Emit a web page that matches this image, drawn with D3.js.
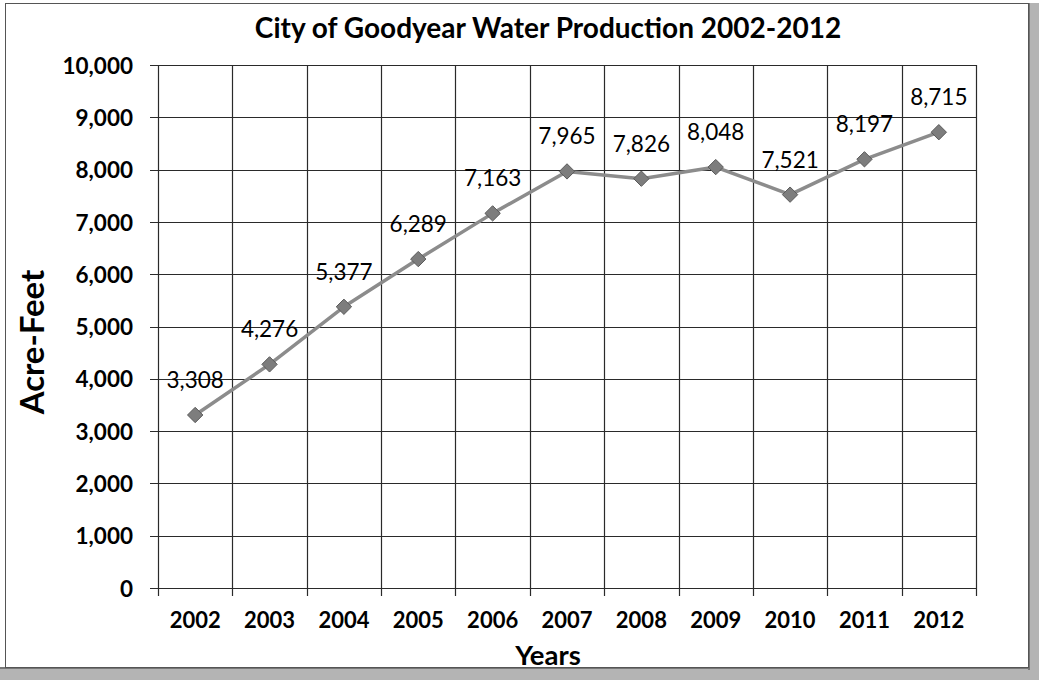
<!DOCTYPE html>
<html>
<head>
<meta charset="utf-8">
<script src="https://cdn.jsdelivr.net/npm/d3@7"></script>
<style>
  html, body { margin: 0; padding: 0; background: #fff; }
  svg { display: block; }
  text { font-family: Lato, "Open Sans", sans-serif; fill: #000; }
</style>
</head>
<body>
<svg id="chart" width="1039" height="680"></svg>
<script>
// Annual water production, City of Goodyear (acre-feet)
const years = ["2002", "2003", "2004", "2005", "2006", "2007", "2008", "2009", "2010", "2011", "2012"];
const acreFeet = [3308, 4276, 5377, 6289, 7163, 7965, 7826, 8048, 7521, 8197, 8715];
const yTicks = [0, 1000, 2000, 3000, 4000, 5000, 6000, 7000, 8000, 9000, 10000];
const titleText = "City of Goodyear Water Production 2002-2012";
const yTitle = "Acre-Feet";
const xTitle = "Years";

const W = 1039, H = 680;
const plot = { left: 158, right: 976, top: 65, bottom: 588 };

const svg = d3.select("#chart");

// Frame with drop shadow on right and bottom
const shadow = svg.append("g");
shadow.append("rect").attr("x", 1028).attr("y", 3).attr("width", W - 1028).attr("height", H - 3).attr("fill", "#b4b4b4");
shadow.append("rect").attr("x", 0).attr("y", 668).attr("width", W).attr("height", H - 668).attr("fill", "#b4b4b4");
shadow.append("rect").attr("x", 1028).attr("y", 3).attr("width", 2).attr("height", 667).attr("fill", "#777");
shadow.append("rect").attr("x", 0).attr("y", 667).attr("width", 1030).attr("height", 2).attr("fill", "#777");
svg.append("rect").attr("x", 5.5).attr("y", 3.5).attr("width", 1023).attr("height", 664)
  .attr("fill", "#fff").attr("stroke", "#555").attr("stroke-width", 1);

// Scales
const x = d3.scaleBand().domain(years).range([plot.left, plot.right]).padding(0);
const y = d3.scaleLinear().domain([0, 10000]).range([plot.bottom, plot.top]);
const cx = d => x(d) + x.bandwidth() / 2;

// Gridlines
const grid = svg.append("g").attr("stroke", "#2a2a2a").attr("stroke-width", 1.2);
grid.selectAll("line.h").data(yTicks).join("line")
  .attr("class", "h")
  .attr("x1", plot.left - 8).attr("x2", plot.right)
  .attr("y1", d => Math.round(y(d)) + 0.5).attr("y2", d => Math.round(y(d)) + 0.5);
const bounds = years.map(d => x(d)).concat([plot.right]);
grid.selectAll("line.v").data(bounds).join("line")
  .attr("class", "v")
  .attr("x1", d => Math.round(d) + 0.5).attr("x2", d => Math.round(d) + 0.5)
  .attr("y1", plot.top).attr("y2", plot.bottom + 8);

// Y axis labels
const yAxis = d3.axisLeft(y).tickValues(yTicks).tickFormat(d3.format(",")).tickSize(0).tickPadding(0);
const gy = svg.append("g").attr("transform", `translate(${plot.left - 25},0)`).call(yAxis);
gy.select(".domain").remove();
gy.selectAll("text").style("font-family", "Lato, sans-serif").style("font-size", "22.5px")
  .style("font-weight", "bold").attr("fill", "#000").attr("dy", "0.36em");

// X axis labels
const xAxis = d3.axisBottom(x).tickSize(0).tickPadding(0);
const gx = svg.append("g").attr("transform", `translate(0,${plot.bottom + 24})`).call(xAxis);
gx.select(".domain").remove();
gx.selectAll("text").style("font-family", "Lato, sans-serif").style("font-size", "22px")
  .style("font-weight", "bold").attr("fill", "#000").attr("dy", "0.72em");

// Series line
const line = d3.line().x((d, i) => cx(years[i])).y(d => y(d));
svg.append("path").datum(acreFeet)
  .attr("d", line).attr("fill", "none")
  .attr("stroke", "#8c8c8c").attr("stroke-width", 3.5).attr("stroke-linejoin", "round");

// Diamond markers
const diamond = d3.symbol().type(d3.symbolDiamond2).size(150);
svg.append("g").selectAll("path").data(acreFeet).join("path")
  .attr("d", diamond)
  .attr("transform", (d, i) => `translate(${cx(years[i])},${y(d)})`)
  .attr("fill", "#7d7d7d").attr("stroke", "#5a5a5a").attr("stroke-width", 1);

// Value labels
svg.append("g").selectAll("text").data(acreFeet).join("text")
  .attr("x", (d, i) => cx(years[i]))
  .attr("y", d => y(d) - 27)
  .attr("text-anchor", "middle")
  .style("font-size", "22.5px")
  .text(d => d3.format(",")(d));

// Titles
svg.append("text").attr("x", 548).attr("y", 38).attr("text-anchor", "middle")
  .style("font-size", "28px").style("font-weight", "bold").text(titleText);
svg.append("text").attr("transform", `translate(44,342) rotate(-90)`).attr("text-anchor", "middle")
  .style("font-size", "33px").style("font-weight", "bold").text(yTitle);
svg.append("text").attr("x", 548).attr("y", 665).attr("text-anchor", "middle")
  .style("font-size", "27.5px").style("font-weight", "bold").text(xTitle);
</script>
</body>
</html>
